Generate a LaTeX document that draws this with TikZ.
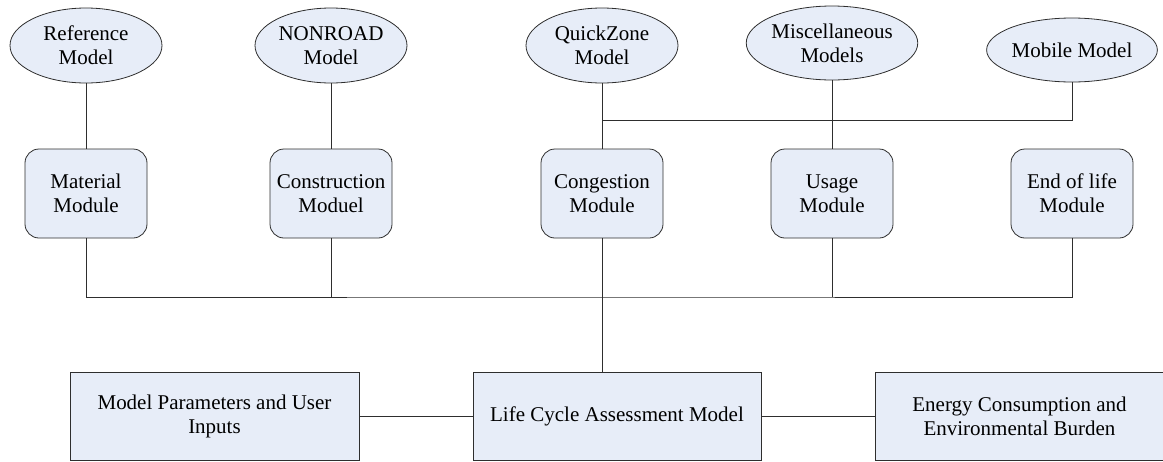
\documentclass[tikz,border=0pt]{standalone}
\usepackage{fontspec}
\setmainfont{Liberation Serif}
\usetikzlibrary{shapes.geometric}
\definecolor{boxfill}{HTML}{E7EDF8}
\definecolor{edge}{HTML}{2E2E2E}
\tikzset{
  base/.style={font=\fontsize{21}{24}\selectfont, align=center, inner sep=0pt,
               fill=boxfill, draw=edge, line width=0.8pt},
  modelell/.style={base, ellipse, minimum width=152, minimum height=75},
  modbox/.style={base, rectangle, rounded corners=14, minimum width=122, minimum height=89},
  bigbox/.style={base, rectangle, minimum width=289, minimum height=88},
  conn/.style={draw=edge, line width=0.8pt}
}
\begin{document}
\begin{tikzpicture}[x=1pt,y=-1pt]
\useasboundingbox (0,0) rectangle (1163,461);
% models
\node[modelell] (ref) at (86,45.5) {Reference\\Model};
\node[modelell] (nonroad) at (331,45.5) {NONROAD\\Model};
\node[modelell] (quick) at (602,45.5) {QuickZone\\Model};
\node[modelell, minimum height=74] (misc) at (832,43) {Miscellaneous\\Models};
\node[modelell, minimum height=64] (mobile) at (1072,50) {Mobile Model};
% modules
\node[modbox] (mat) at (86,193.5) {Material\\Module};
\node[modbox] (cons) at (331,193.5) {Construction\\Moduel};
\node[modbox] (cong) at (602,193.5) {Congestion\\Module};
\node[modbox] (usage) at (832,193.5) {Usage\\Module};
\node[modbox] (eol) at (1072,193.5) {End of life\\Module};
% bottom boxes
\node[bigbox] (params) at (214.5,416) {Model Parameters and User\\Inputs};
\node[bigbox, minimum width=288] (lca) at (617,416) {Life Cycle Assessment Model};
\node[bigbox] (energy) at (1019.5,416) {Energy Consumption and\\Environmental Burden};
% junctions
\coordinate (topj) at (602,120);
\coordinate (botj) at (602,297);
% connectors
\draw[conn] (ref.south) -- (mat.north);
\draw[conn] (nonroad.south) -- (cons.north);
\draw[conn] (quick.south) -- (cong.north);
\draw[conn] (misc.south) -- (usage.north);
\draw[conn] (mobile.south) |- (topj);
\draw[conn] (mat.south) |- (botj) -| (eol.south);
\draw[conn] (cons.south) -- (cons.south |- botj);
\draw[conn] (usage.south) -- (usage.south |- botj);
\draw[conn] (cong.south) -- (cong.south |- lca.north);
\draw[conn] (params.east) -- (lca.west);
\draw[conn] (lca.east) -- (energy.west);
\end{tikzpicture}
\end{document}
